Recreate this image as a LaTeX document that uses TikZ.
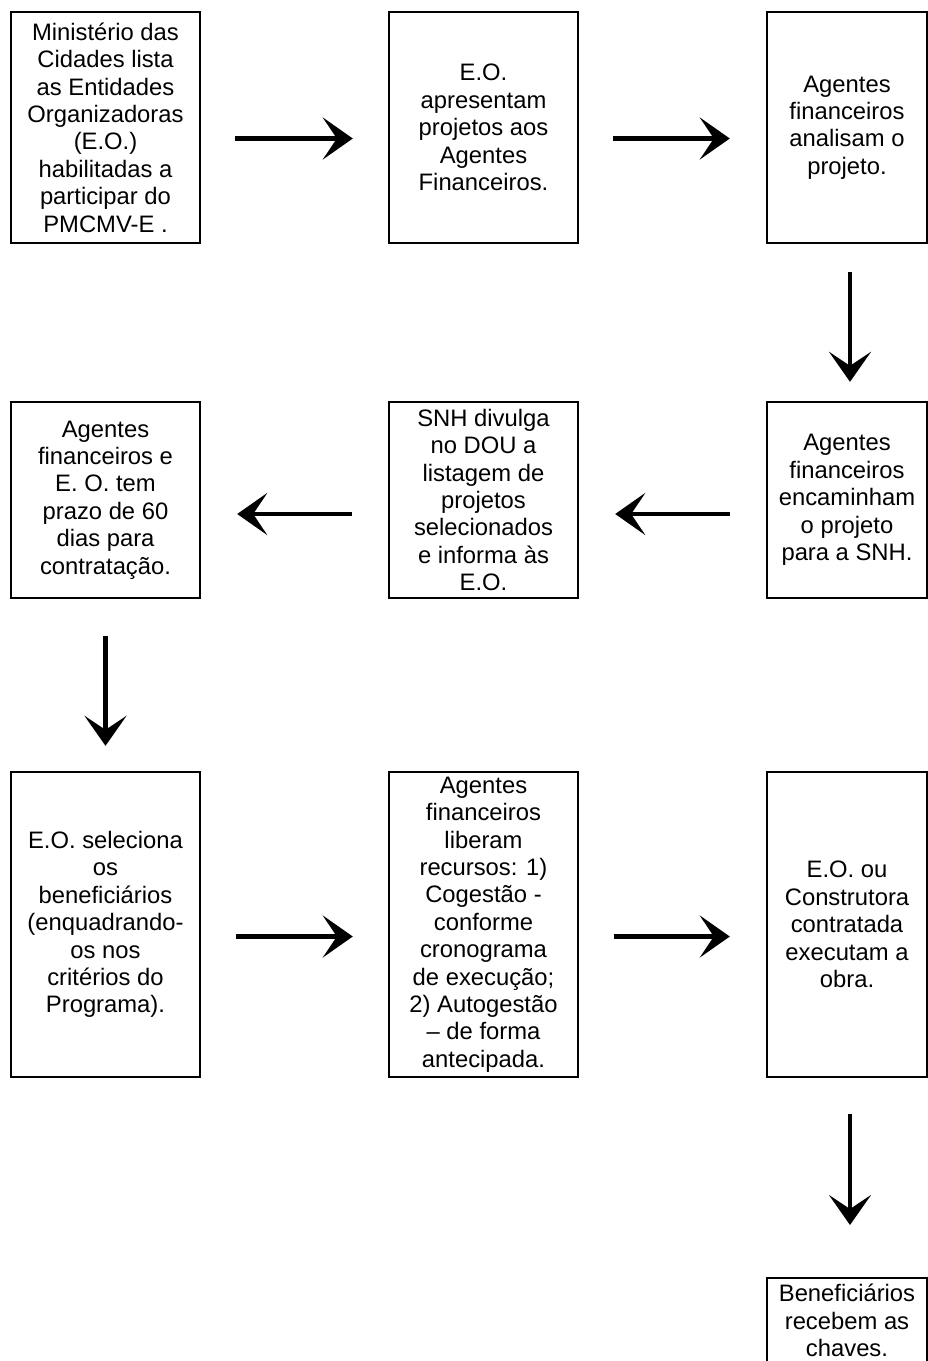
\documentclass[tikz,border=0pt]{standalone}
\usepackage{fontspec}
\setmainfont{Liberation Sans}
\usetikzlibrary{arrows.meta}

\begin{document}
\begin{tikzpicture}[x=1pt,y=-1pt]
% Styles
\tikzstyle{caixa}=[draw, line width=2.4pt, align=center, inner sep=0pt, font=\fontsize{23.8pt}{27.4pt}\selectfont]
\tikzstyle{larga}=[minimum width=189pt]
\tikzstyle{estreita}=[minimum width=160pt]
\tikzstyle{seta}=[line width=4.5pt, -{Stealth[length=30pt,width=42pt,inset=14pt]}]

\useasboundingbox (0,0) rectangle (928,1361);

% first row
\node[caixa, larga, minimum height=231pt] (ministerio) at (105.5,127.5) {Ministério das\\Cidades lista\\as Entidades\\Organizadoras\\(E.O.)\\habilitadas a\\participar do\\PMCMV-E .};
\node[caixa, larga, minimum height=231pt] (apresentam) at (483.5,127.5) {E.O.\\apresentam\\projetos aos\\Agentes\\Financeiros.};
\node[caixa, estreita, minimum height=231pt] (analisam) at (847,127.5) {Agentes\\financeiros\\analisam o\\projeto.};

% second row
\node[caixa, estreita, minimum height=196pt] (encaminham) at (847,500) {Agentes\\financeiros\\encaminham\\o projeto\\para a SNH.};
\node[caixa, larga, minimum height=196pt] (divulga) at (483.5,500) {SNH divulga\\no DOU a\\listagem de\\projetos\\selecionados\\e informa às\\E.O.};
\node[caixa, larga, minimum height=196pt] (prazo) at (105.5,500) {Agentes\\financeiros e\\E. O. tem\\prazo de 60\\dias para\\contratação.};

% third row
\node[caixa, larga, minimum height=305pt] (seleciona) at (105.5,924.5) {E.O. seleciona\\os\\beneficiários\\(enquadrando-\\os nos\\critérios do\\Programa).};
\node[caixa, larga, minimum height=305pt] (liberam) at (483.5,924.5) {Agentes\\financeiros\\liberam\\recursos: 1)\\Cogestão -\\conforme\\cronograma\\de execução;\\2) Autogestão\\– de forma\\antecipada.};
\node[caixa, estreita, minimum height=305pt] (obra) at (847,924.5) {E.O. ou\\Construtora\\contratada\\executam a\\obra.};

% last box
\node[caixa, estreita, anchor=north, inner ysep=6pt] (chaves) at (847,1277) {Beneficiários\\recebem as\\chaves.};

% arrows
\draw[seta, shorten <=34pt, shorten >=35pt] ([yshift=-11pt]ministerio.east) -- ([yshift=-11pt]apresentam.west);
\draw[seta, shorten <=34pt, shorten >=36pt] ([yshift=-11pt]apresentam.east) -- ([yshift=-11pt]analisam.west);
\draw[seta, shorten <=28pt, shorten >=19pt] ([xshift=3pt]analisam.south) -- ([xshift=3pt]encaminham.north);
\draw[seta, shorten <=36pt, shorten >=36pt] ([yshift=-14pt]encaminham.west) -- ([yshift=-14pt]divulga.east);
\draw[seta, shorten <=36pt, shorten >=36pt] ([yshift=-14pt]divulga.west) -- ([yshift=-14pt]prazo.east);
\draw[seta, shorten <=37pt, shorten >=25pt] (prazo.south) -- (seleciona.north);
\draw[seta, shorten <=35pt, shorten >=35pt] ([yshift=-12pt]seleciona.east) -- ([yshift=-12pt]liberam.west);
\draw[seta, shorten <=35pt, shorten >=36pt] ([yshift=-12pt]liberam.east) -- ([yshift=-12pt]obra.west);
\draw[seta, shorten <=36pt, shorten >=52pt] ([xshift=3pt]obra.south) -- ([xshift=3pt]chaves.north);

\end{tikzpicture}
\end{document}
